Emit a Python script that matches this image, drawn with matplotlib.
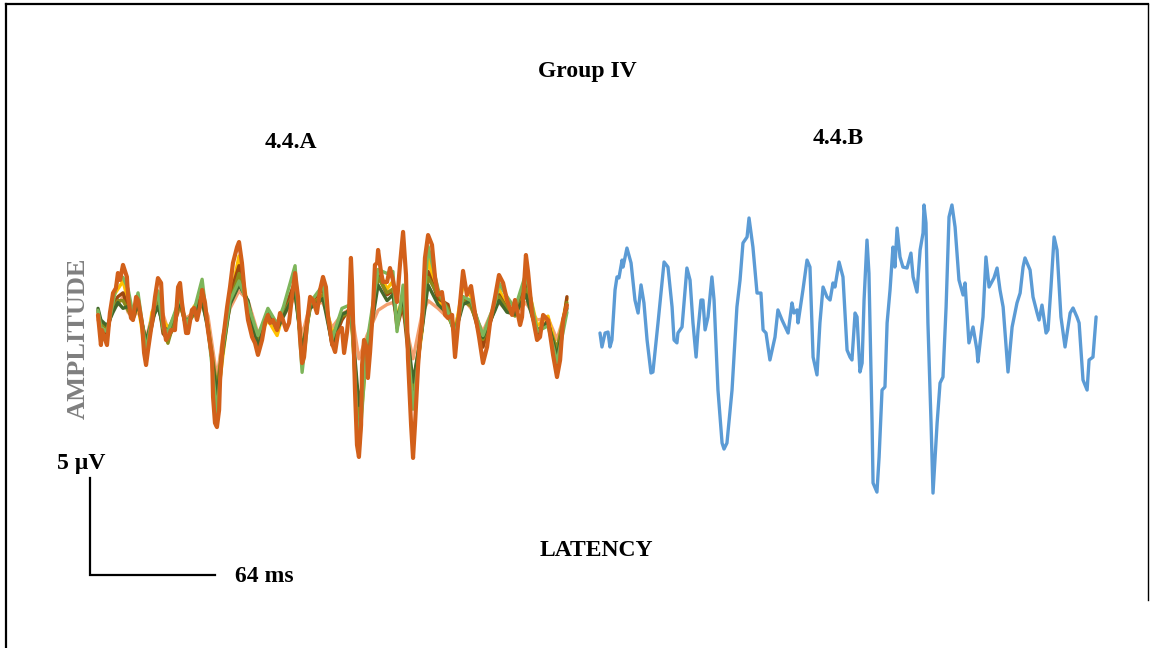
import numpy as np
import matplotlib
matplotlib.use("Agg")
import matplotlib.pyplot as plt
from matplotlib.lines import Line2D

# ---------------------------------------------------------------
# Data: latency in ms, amplitude in µV
# ---------------------------------------------------------------
# 4.4.A - reference (thick orange) trace
latency_a_main = [0, 1.5, 2.0, 4.6, 6.1, 7.7, 9.2, 10.2, 11.3, 12.8, 14.8, 15.4, 16.9, 17.9,
                  19.5, 20.5, 22.5, 23.6, 24.6, 25.6, 27.6, 29.2, 30.7, 32.3, 33.3, 34.8,
                  35.8, 37.4, 39.4, 41.0, 42.0, 43.0, 45.1, 46.1, 48.1, 49.2, 50.7, 52.2,
                  53.3, 54.8, 56.3, 58.4, 58.9, 59.9, 60.9, 62.0, 62.5, 64.0, 66.1, 67.6,
                  69.1, 71.2, 72.2, 73.7, 75.3, 76.8, 78.9, 80.4, 81.9, 84.0, 85.5, 87.0,
                  88.1, 89.6, 91.7, 93.2, 94.7, 96.3, 97.8, 99.3, 100.9, 102.4, 103.4,
                  104.5, 105.5, 107.0, 108.6, 110.1, 112.1, 113.7, 115.2, 116.7, 117.8,
                  119.8, 121.4, 122.9, 124.9, 126.0, 127.5, 128.5, 129.5, 130.1, 131.6,
                  132.6, 133.6, 134.7, 135.2, 136.2, 137.7, 138.2, 139.3, 140.8, 141.8,
                  142.9, 143.4, 144.9, 145.9, 148.0, 149.5, 151.0, 153.1, 154.6, 156.2,
                  157.7, 158.7, 160.3, 161.3, 162.3, 163.9, 164.9, 165.9, 167.4, 169.0,
                  171.0, 172.6, 174.1, 176.1, 177.7, 179.2, 181.3, 182.8, 186.9, 188.9,
                  191.0, 193.0, 195.1, 197.1, 199.2, 200.7, 203.3, 205.3, 207.4, 209.4,
                  212.0, 213.5, 216.1, 217.1, 219.1, 220.2, 222.2, 224.8, 226.3, 227.9,
                  230.4, 233.0, 235.0, 236.6, 238.1, 240.1]
amp_a_main = [0.26, -1.29, -0.52, -1.29, 0.36, 1.39, 1.65, 2.42, 2.06, 2.84, 2.22, 1.19, 0.10, 0.0,
              1.19, 1.03, -0.15, -1.70, -2.32, -1.55, -0.15, 1.19, 2.16, 1.91, 0.0, -1.03,
              -0.88, -0.52, -0.52, 1.70, 1.91, 0.88, -0.67, -0.67, 0.52, 0.62, 0.0, 0.67,
              1.55, 0.88, -0.52, -1.91, -3.97, -5.31, -5.52, -4.64, -3.09, -1.03, 0.67, 1.70,
              2.94, 3.76, 4.02, 2.94, 1.19, 0.0, -0.88, -1.19, -1.80, -1.03, -0.15, 0.26,
              -0.15, 0.0, -0.52, 0.36, 0.0, -0.52, -0.15, 1.19, 2.42, 1.19, -0.88,
              -2.22, -1.91, -0.15, 1.19, 1.03, 0.36, 1.55, 2.22, 1.70, 0.15,
              -1.19, -1.65, -0.67, -0.41, -1.70, -0.62, 0.41, 3.20, 1.80, -3.71,
              -6.44, -7.06, -5.41, -2.32, -1.03, -1.44, -2.99, -1.65, 0.62, 2.84,
              2.94, 3.61, 2.47, 1.96, 1.96, 2.68, 2.06, 0.93, 2.84, 4.54,
              2.32, -1.96, -5.41, -7.11, -5.41, -2.32, -0.93, -0.10, 3.20, 4.38,
              3.87, 2.16, 1.29, 1.44, 0.26, 0.10, 0.26, -1.91, 2.53, 1.29,
              1.75, 0.36, -0.88, -2.22, -1.39, -0.15, 1.19, 2.32, 1.91, 1.03,
              0.26, 1.03, -0.26, 0.15, 3.35, 2.47, 0.36, -1.03, -0.88, 0.26,
              0.0, -1.80, -2.94, -2.06, 0.0, 0.77]

# 4.4.A - remaining traces, sampled at the main turning points
latency_a_others = [0, 1.5, 4.6, 7.7, 10.2, 12.8, 15.4, 17.9, 20.5, 24.6, 27.6, 30.7, 33.3,
                    35.8, 39.4, 42.0, 45.1, 49.2, 53.3, 56.3, 60.9, 64.0, 67.6, 72.2, 76.8,
                    81.9, 87.0, 91.7, 95.0, 100.9, 104.5, 108.6, 115.2, 119.8, 124.9, 129.5,
                    133.6, 137.7, 143.4, 148.0, 151.0, 153.1, 156.2, 161.3, 165.9, 169.0,
                    174.1, 179.2, 182.8, 186.9, 191.0, 197.1, 203.3, 205.3, 209.4, 213.5,
                    219.1, 224.8, 230.4, 235.0, 240.1]
amp_a_green = [0.5, -0.4, -0.6, 0.9, 2.2, 2.2, 1.6, 0.3, 1.4, -1.6, 0.1, 1.5, -0.4,
               -0.6, 0.4, 1.2, -0.2, 0.5, 2.1, -0.4, -4.8, -1.4, 1.0, 2.0, 0.8,
               -0.8, 0.6, -0.2, 0.7, 2.8, -2.7, 0.9, 1.8, -1.0, 0.6, 0.8,
               -6.8, -1.2, 2.6, 2.4, 2.5, -0.6, 1.8, -4.6, -0.3, 3.8,
               1.6, 0.4, -0.8, 1.2, 1.0, -0.8, 0.9, 1.9, 1.2, 0.6,
               2.4, -0.6, -0.3, -2.2, 0.4]
amp_a_yellow = [0.2, -0.6, -0.8, 1.2, 1.6, 2.0, 1.0, 0.2, 0.8, -1.9, 0.4, 1.0, 0.0,
                -0.4, 0.1, 1.0, -0.4, 0.7, 1.2, -0.2, -4.4, -1.8, 1.0, 3.3, 0.6,
                -0.9, 0.0, -0.8, 0.4, 1.8, -1.8, 0.6, 1.6, -0.7, 0.1, 0.5,
                -6.2, -1.6, 2.6, 1.6, 2.0, 0.0, 1.4, -4.0, -0.6, 3.2,
                1.0, 0.2, -0.6, 1.8, 1.2, -1.2, 0.8, 1.6, 0.7, 0.4,
                2.2, -0.3, 0.2, -1.6, 1.1]
amp_a_salmon = [0.0, -0.3, -0.5, 0.6, 0.8, 1.2, 0.4, 0.1, 0.5, -1.0, 0.2, 0.8, 0.3,
                -0.5, 0.0, 0.6, 0.1, 0.4, 1.0, 0.2, -3.0, -0.8, 0.6, 1.5, 1.0,
                -0.7, 0.2, -0.1, 0.2, 1.2, -0.8, 0.8, 0.9, -0.4, 0.3, 0.6,
                -2.0, -0.8, 0.5, 0.8, 0.9, 0.3, 0.4, -2.0, 0.3, 1.0,
                0.6, 0.1, -0.3, 1.1, 0.6, -0.6, 0.8, 0.9, 0.5, 0.3,
                0.9, 0.0, 0.1, -1.0, 0.7]
amp_a_olive = [0.4, -0.2, -0.4, 0.6, 1.0, 1.0, 0.5, 0.1, 0.9, -1.2, -0.1, 1.0, -0.5,
               -1.2, 0.1, 0.8, -0.3, 0.3, 0.9, -0.3, -3.5, -1.2, 0.9, 2.4, 0.8,
               -1.2, 0.5, -0.4, 0.3, 1.5, -1.5, 0.7, 1.3, -0.9, 0.2, 0.4,
               -5.0, -1.4, 2.2, 1.4, 1.6, -0.2, 1.0, -3.5, -0.2, 2.2,
               1.3, 0.6, -0.5, 1.0, 0.7, -1.0, 0.6, 1.2, 0.6, 0.2,
               1.6, -0.5, -0.2, -1.5, 0.9]
amp_a_darkgreen = [0.6, 0.0, -0.3, 0.4, 0.9, 0.6, 0.7, 0.2, 0.8, -1.1, 0.0, 0.7, -0.3,
                   -0.6, 0.3, 0.9, -0.1, 0.4, 1.0, -0.5, -3.8, -1.6, 0.8, 1.8, 1.0,
                   -1.4, 0.4, -0.5, 0.2, 1.4, -1.6, 0.6, 1.1, -1.2, 0.3, 0.5,
                   -4.4, -1.8, 1.8, 1.0, 1.3, 0.0, 1.2, -3.2, -0.5, 1.8,
                   0.8, 0.3, -0.7, 0.8, 1.0, -0.9, 0.5, 1.0, 0.4, 0.3,
                   1.3, -0.7, -0.1, -1.9, 0.6]
amp_a_brown = [0.5, -0.5, -0.7, 0.8, 1.2, 1.4, 0.6, 0.0, 0.9, -1.5, -0.3, 1.2, -0.7,
               -1.0, -0.2, 1.0, -0.4, 0.5, 1.3, -0.4, -4.1, -1.0, 1.3, 2.8, 0.5,
               -1.3, 0.3, -0.3, 0.4, 2.0, -1.9, 0.9, 1.6, -1.3, 0.0, 0.7,
               -5.5, -1.5, 2.3, 1.3, 1.5, -0.4, 0.8, -4.2, -0.4, 2.5,
               1.1, 0.8, -0.9, 1.2, 0.8, -1.4, 0.7, 1.3, 0.6, 0.4,
               1.8, -0.8, 0.0, -2.4, 1.2]

# 4.4.B - single averaged trace
latency_b = [0, 1.0, 2.6, 4.1, 5.1, 6.1, 7.7, 8.7, 9.7, 11.3, 11.8, 13.8, 15.9, 17.9, 19.5,
             21.0, 22.5, 24.1, 26.1, 27.1, 29.7, 31.7, 32.8, 34.8, 36.9, 37.9, 39.4, 39.9,
             42.0, 44.5, 46.1, 47.6, 49.2, 50.2, 51.7, 52.7, 53.8, 55.3, 57.3, 58.4, 60.4,
             62.5, 63.5, 65.0, 67.6, 70.1, 71.7, 73.2, 75.3, 76.3, 78.3, 80.4, 82.4, 83.5,
             85.0, 87.0, 89.6, 91.1, 93.2, 96.3, 98.3, 99.3, 100.9, 101.4, 103.9, 106.0,
             107.5, 109.1, 111.1, 112.6, 114.2, 116.2, 117.8, 119.3, 120.3, 122.4, 124.4,
             126.5, 128.0, 129.0, 130.6, 131.6, 133.1, 134.2, 135.2, 136.7, 137.7, 139.3,
             139.8, 141.8, 142.9, 144.4, 145.9, 147.0, 148.5, 150.0, 151.0, 152.1, 153.6,
             155.1, 157.2, 159.2, 160.3, 162.3, 163.9, 165.4, 165.9, 166.9, 167.9, 169.5,
             170.5, 172.6, 174.1, 175.6, 177.2, 178.7, 180.2, 181.8, 183.8, 185.9, 186.9,
             187.9, 188.9, 191.0, 193.0, 193.5, 196.1, 197.6, 199.2, 201.7, 203.3, 204.8,
             206.4, 208.4, 208.9, 211.0, 213.5, 215.1, 216.6, 217.6, 220.2, 221.7, 223.8,
             224.8, 226.3, 228.4, 229.4, 230.9, 232.5, 234.0, 236.0, 238.1, 240.7, 242.2,
             244.2, 245.3, 247.3, 249.4, 250.4, 252.4, 254.0]
amp_b = [0.36, -0.36, 0.36, 0.41, -0.36, 0.0, 2.58, 3.25, 3.20, 4.12, 3.76, 4.74, 3.97, 2.06, 1.39,
         2.84, 1.91, 0.0, -1.70, -1.65, 0.88, 2.94, 4.02, 3.76, 1.70, 0.0, -0.15, 0.36,
         0.67, 3.71, 3.09, 0.88, -0.88, 0.52, 2.06, 2.06, 0.52, 1.19, 3.25, 2.06, -2.58,
         -5.31, -5.62, -5.31, -2.58, 1.70, 3.09, 5.00, 5.31, 6.29, 4.79, 2.42, 2.42, 0.52,
         0.36, -1.03, 0.15, 1.55, 1.03, 0.36, 1.91, 1.39, 1.55, 0.88, 2.58, 4.12,
         3.76, -0.88, -1.80, 0.88, 2.73, 2.22, 2.06, 2.94, 2.73, 4.02, 3.25,
         -0.52, -0.88, -1.03, 1.39, 1.19, -1.65, -1.19, 2.06, 5.15, 3.45, -4.28,
         -7.37, -7.84, -6.03, -2.58, -2.42, 0.88, 2.58, 4.79, 3.76, 5.77, 4.28,
         3.76, 3.71, 4.48, 3.25, 2.47, 4.64, 5.52, 6.96, 6.03, 0.88, -4.28,
         -7.89, -4.28, -2.22, -1.91, 1.70, 6.34, 6.96, 5.82, 3.09, 2.32, 2.94,
         1.39, -0.15, 0.67, -0.52, -1.13, 1.19, 4.28, 2.73, 3.20, 3.71, 2.58,
         1.70, -1.03, -1.65, 0.67, 1.91, 2.42, 3.76, 4.23, 3.61, 2.22, 1.39,
         1.03, 1.80, 0.36, 0.52, 2.73, 5.31, 4.64, 1.19, -0.36, 1.39, 1.65,
         1.19, 0.88, -2.06, -2.58, -1.03, -0.88, 1.19]

# Calibration bar
scale_uv = 5
scale_ms = 64

# ---------------------------------------------------------------
# Layout
# ---------------------------------------------------------------
W, H = 1152, 648
PX_PER_MS = 125 / 64.0
PX_PER_UV = 97 / 5.0

fig = plt.figure(figsize=(W / 100, H / 100), dpi=100)
fig.patch.set_facecolor("white")


def panel(x0, y0):
    """Transparent full-figure axes whose (0 ms, 0 µV) sits at pixel (x0, y0)."""
    ax = fig.add_axes([0, 0, 1, 1])
    ax.set_xlim(-x0 / PX_PER_MS, (W - x0) / PX_PER_MS)
    ax.set_ylim(-(H - y0) / PX_PER_UV, y0 / PX_PER_UV)
    ax.axis("off")
    ax.patch.set_alpha(0)
    return ax


def fx(px):
    return px / W


def fy(py):
    return 1 - py / H


ax_a = panel(98, 320)
ax_b = panel(600, 340)

others = [
    (amp_a_salmon, "#F4A070"),
    (amp_a_yellow, "#FFC000"),
    (amp_a_brown, "#9E480E"),
    (amp_a_olive, "#8C8A1A"),
    (amp_a_darkgreen, "#43682B"),
    (amp_a_green, "#7DB55A"),
]
for amps, col in others:
    ax_a.plot(latency_a_others, amps, color=col, lw=2.4, solid_joinstyle="round",
              solid_capstyle="round")
ax_a.plot(latency_a_main, amp_a_main, color="#D2601A", lw=3.0, solid_joinstyle="round",
          solid_capstyle="round")

ax_b.plot(latency_b, amp_b, color="#5B9BD5", lw=2.4, solid_joinstyle="round",
          solid_capstyle="round")

# Calibration bar (L shape) in panel A data units
bar_t0 = -4.1
bar_a0 = -13.14
ax_a.plot([bar_t0, bar_t0, bar_t0 + scale_ms],
          [bar_a0 + scale_uv, bar_a0, bar_a0],
          color="black", lw=1.6, solid_joinstyle="miter")

# Frame lines
fig.add_artist(Line2D([fx(6), fx(6)], [fy(648), fy(4)], color="black", lw=1.6))
fig.add_artist(Line2D([fx(6), fx(1148)], [fy(4), fy(4)], color="black", lw=1.6))
fig.add_artist(Line2D([fx(1148), fx(1148)], [fy(4), fy(600)], color="black", lw=1.0))

# Text
serif = ["Liberation Serif", "DejaVu Serif"]
tkw = dict(family=serif, fontweight="bold", fontsize=17)
fig.text(fx(587), fy(72), "Group IV", ha="center", va="center", **tkw)
fig.text(fx(291), fy(142), "4.4.A", ha="center", va="center", **tkw)
fig.text(fx(838), fy(138), "4.4.B", ha="center", va="center", **tkw)
fig.text(fx(596), fy(550), "LATENCY", ha="center", va="center", **tkw)
fig.text(fx(78), fy(338), "AMPLITUDE", ha="center", va="center", rotation=90,
         color="#7F7F7F", family=serif, fontweight="bold", fontsize=19)
fig.text(fx(57), fy(463), f"{scale_uv} µV", ha="left", va="center", **tkw)
fig.text(fx(235), fy(577), f"{scale_ms} ms", ha="left", va="center", **tkw)

fig.savefig("out.png", dpi=100, facecolor="white")
